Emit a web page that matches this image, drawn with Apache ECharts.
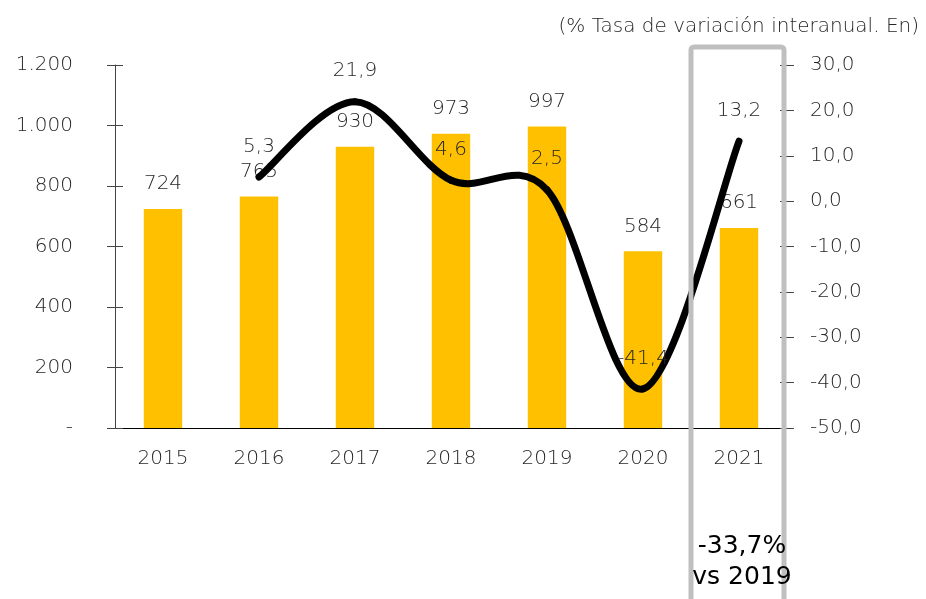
<!DOCTYPE html>
<html>
<head>
  <meta charset="utf-8">
  <title>Tasa de variación interanual</title>
  <script src="https://cdn.jsdelivr.net/npm/echarts@6/dist/echarts.min.js"></script>
</head>
<body style="margin:0">
  <div id="main" style="width: 926px;height:599px;"></div>
  <script type="text/javascript">
    var years = ['2015', '2016', '2017', '2018', '2019', '2020', '2021'];
    var volumen = [724, 765, 930, 973, 997, 584, 661];
    var variacion = [null, 5.3, 21.9, 4.6, 2.5, -41.4, 13.2];
    var nota = ['-33,7%', 'vs 2019'];
    var subtitulo = '(% Tasa de variación interanual. En)';

    var font = 'DejaVu Sans';
    var weight = 200;
    var grey = '#262626';

    var myChart = echarts.init(document.getElementById('main'), null, { renderer: 'canvas' });

    function miles(v) {
      if (v === 0) return '-';
      return String(v).replace(/\B(?=(\d{3})+(?!\d))/g, '.');
    }
    function coma(v) {
      return v.toFixed(1).replace('.', ',');
    }

    // curva suavizada tipo Excel (Catmull-Rom) entre el punto i y el i+1
    function tramo(params, api) {
      var i = params.dataIndex;
      if (variacion[i] == null || variacion[i + 1] == null) return;
      var pt = function (k) { return api.coord([k, variacion[k]]); };
      var p1 = pt(i), p2 = pt(i + 1);
      var p0 = variacion[i - 1] != null ? pt(i - 1) : p1;
      var p3 = variacion[i + 2] != null ? pt(i + 2) : p2;
      var t = 1 / 6;
      return {
        type: 'bezierCurve',
        shape: {
          x1: p1[0], y1: p1[1], x2: p2[0], y2: p2[1],
          cpx1: p1[0] + (p2[0] - p0[0]) * t, cpy1: p1[1] + (p2[1] - p0[1]) * t,
          cpx2: p2[0] - (p3[0] - p1[0]) * t, cpy2: p2[1] - (p3[1] - p1[1]) * t
        },
        style: { stroke: '#000', lineWidth: 7, fill: null, lineCap: 'round' }
      };
    }

    var option = {
      animation: false,
      textStyle: { fontFamily: font },
      title: {
        text: subtitulo,
        right: 2,
        top: 12,
        textStyle: { fontFamily: font, fontWeight: weight, fontSize: 20, color: grey }
      },
      grid: { left: 115, right: 139, top: 65, bottom: 171 },
      xAxis: {
        type: 'category',
        data: years,
        axisLine: { lineStyle: { color: '#000', width: 1 } },
        axisTick: { length: 9, lineStyle: { color: '#444' } },
        axisLabel: { fontSize: 20, color: grey, margin: 21, fontWeight: weight }
      },
      yAxis: [
        {
          type: 'value', min: 0, max: 1200, interval: 200,
          splitLine: { show: false },
          axisLine: { show: true, lineStyle: { color: '#444' } },
          axisTick: { show: true, length: 8, lineStyle: { color: '#444' } },
          axisLabel: { formatter: miles, fontSize: 20, color: grey, margin: 42, fontWeight: weight }
        },
        {
          type: 'value', min: -50, max: 30, interval: 10, position: 'right',
          splitLine: { show: false },
          axisLine: { show: false },
          axisTick: { show: true, length: 7, lineStyle: { color: '#444' } },
          axisLabel: { formatter: coma, fontSize: 20, color: grey, margin: 23, fontWeight: weight }
        },
        {
          // ticks hacia dentro para que crucen el eje izquierdo
          type: 'value', min: 0, max: 1200, interval: 200, position: 'left',
          splitLine: { show: false },
          axisLine: { show: false },
          axisTick: { show: true, inside: true, length: 8, lineStyle: { color: '#444' } },
          axisLabel: { show: false }
        },
        {
          type: 'value', min: -50, max: 30, interval: 10, position: 'right',
          splitLine: { show: false },
          axisLine: { show: false },
          axisTick: { show: true, inside: true, length: 7, lineStyle: { color: '#444' } },
          axisLabel: { show: false }
        }
      ],
      series: [
        {
          name: 'volumen',
          type: 'bar',
          data: volumen,
          barWidth: '40%',
          itemStyle: { color: '#FFC000' },
          label: {
            show: true, position: 'top', distance: 15,
            formatter: function (p) { return miles(p.value); },
            fontSize: 20, color: grey, fontWeight: weight
          }
        },
        {
          name: 'curva',
          type: 'custom',
          yAxisIndex: 1,
          data: variacion.map(function (v, i) { return [i, v == null ? 0 : v]; }),
          encode: { x: 0, y: 1 },
          renderItem: tramo,
          z: 4
        },
        {
          // solo etiquetas
          name: 'variacion',
          type: 'line',
          yAxisIndex: 1,
          data: variacion,
          symbol: 'circle',
          symbolSize: 1,
          showSymbol: true,
          itemStyle: { color: 'rgba(0,0,0,0)' },
          lineStyle: { opacity: 0 },
          z: 5,
          label: {
            show: true, position: 'top', distance: 20,
            formatter: function (p) { return coma(p.value); },
            fontSize: 20, color: grey, fontWeight: weight
          }
        }
      ]
    };

    myChart.setOption(option);

    // recuadro gris alrededor de 2021
    var x0 = myChart.convertToPixel({ xAxisIndex: 0 }, '2020');
    var x1 = myChart.convertToPixel({ xAxisIndex: 0 }, '2021');
    var half = (x1 - x0) / 2;
    myChart.setOption({
      graphic: [
        {
          type: 'rect',
          shape: { x: x1 - half, y: 47, width: half * 2 - 3, height: 600, r: 3 },
          style: { fill: 'none', stroke: '#BFBFBF', lineWidth: 5 },
          z: 10
        },
        {
          type: 'text',
          x: x1 + 3, y: 531,
          style: {
            text: nota.join('\n'), align: 'center', fill: '#000',
            font: '400 25px ' + font, lineHeight: 31
          },
          z: 11
        }
      ]
    });
  </script>
</body>
</html>
